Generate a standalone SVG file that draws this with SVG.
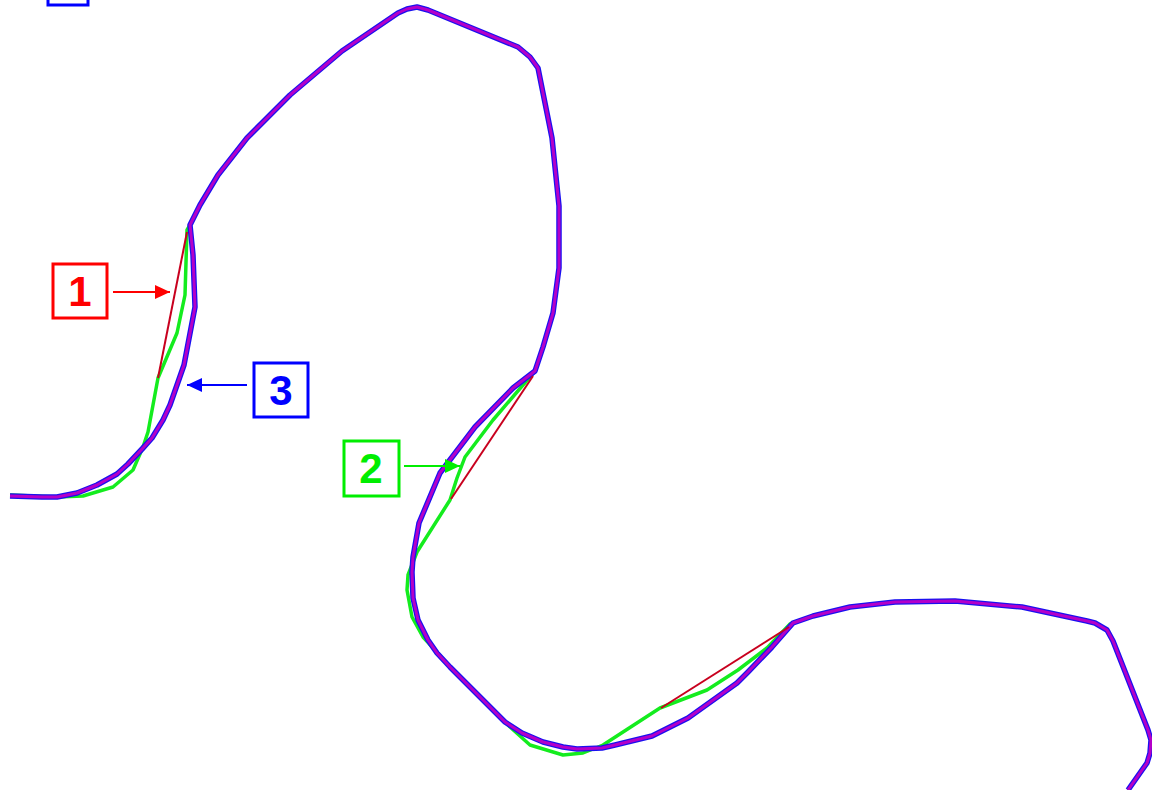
<svg xmlns="http://www.w3.org/2000/svg" width="1152" height="790" viewBox="0 0 1152 790">
<style>
.line{fill:none;stroke-linejoin:round;stroke-linecap:butt}
.green{stroke:#14ec1e;stroke-width:3.5}
.blue{stroke:#1a10f0;stroke-width:5.5}
.mag{stroke:#b400c8;stroke-width:3}
.red{stroke:#c8001e;stroke-width:2}
.box{fill:#fff;stroke-width:3}
.lbl{font-family:"Liberation Sans","DejaVu Sans",sans-serif;font-weight:bold;font-size:42px;text-anchor:middle}
</style>
<defs>
<marker id="ahR" markerWidth="16" markerHeight="14" refX="15" refY="7" orient="auto" markerUnits="userSpaceOnUse"><path d="M0,0 L15,7 L0,14 Z" fill="#ff0000"/></marker>
<marker id="ahG" markerWidth="16" markerHeight="14" refX="15" refY="7" orient="auto" markerUnits="userSpaceOnUse"><path d="M0,0 L15,7 L0,14 Z" fill="#00ee00"/></marker>
<marker id="ahB" markerWidth="16" markerHeight="14" refX="15" refY="7" orient="auto" markerUnits="userSpaceOnUse"><path d="M0,0 L15,7 L0,14 Z" fill="#0000ff"/></marker>
</defs>
<rect width="1152" height="790" fill="#fff"/>
<g id="connectors">
<path id="smoothed" class="line green" d="M10,495 L57,497 L83,496 L113,487 L133,470 L143,447 L148,432 L158,378 L177,333 L185,295 L187,230 L190,225 L200,205 L218,175 L247,138 L290,95 L342,51 L398,13 L407,9 L417,7 L428,10 L518,47 L530,57 L538,68 L552,138 L559,206 L559,268 L553,313 L543,347 L535,371 L493,420 L465,457 L457,478 L450,500 L417,552 L408,575 L407,590 L412,617 L423,637 L435,650 L450,667 L495,712 L510,727 L530,745 L563,755 L583,753 L603,745 L660,708 L707,690 L738,670 L767,648 L790,624 L813,616 L850,607 L895,602 L955,601 L1022,607 L1087,621 L1095,623 L1107,630 L1113,641 L1148,730 L1151,740 L1150,753 L1147,763 L1128,790"/>
<path id="original" class="line blue" d="M10,496 L42,497 L57,497 L77,493 L97,485 L117,474 L128,464 L143,448 L152,438 L163,420 L170,405 L184,365 L195,307 L193,255 L190,225 L200,205 L218,175 L247,138 L290,95 L342,51 L398,13 L407,9 L417,7 L428,10 L518,47 L530,57 L538,68 L552,138 L559,206 L559,268 L553,313 L543,347 L535,371 L513,388 L475,427 L440,473 L419,523 L413,557 L412,572 L413,598 L418,620 L428,640 L437,653 L450,667 L495,712 L505,722 L522,733 L543,742 L563,747 L577,749 L602,748 L615,745 L652,736 L688,718 L737,683 L748,672 L772,647 L793,623 L813,616 L850,607 L895,602 L955,601 L1022,607 L1087,621 L1095,623 L1107,630 L1113,641 L1148,730 L1151,740 L1150,753 L1147,763 L1128,790"/>
<path id="original-center" class="line mag" d="M10,496 L42,497 L57,497 L77,493 L97,485 L117,474 L128,464 L143,448 L152,438 L163,420 L170,405 L184,365 L195,307 L193,255 L190,225 L200,205 L218,175 L247,138 L290,95 L342,51 L398,13 L407,9 L417,7 L428,10 L518,47 L530,57 L538,68 L552,138 L559,206 L559,268 L553,313 L543,347 L535,371 L513,388 L475,427 L440,473 L419,523 L413,557 L412,572 L413,598 L418,620 L428,640 L437,653 L450,667 L495,712 L505,722 L522,733 L543,742 L563,747 L577,749 L602,748 L615,745 L652,736 L688,718 L737,683 L748,672 L772,647 L793,623 L813,616 L850,607 L895,602 L955,601 L1022,607 L1087,621 L1095,623 L1107,630 L1113,641 L1148,730 L1151,740 L1150,753 L1147,763 L1128,790"/>
<path id="simplified-1" class="line red" d="M187,232 L158,378"/>
<path id="simplified-2" class="line red" d="M533,376 L451,499"/>
<path id="simplified-3" class="line red" d="M661,708 L789,627"/>
<line x1="113" y1="292" x2="170" y2="292" stroke="#ff0000" stroke-width="2" marker-end="url(#ahR)"/>
<line x1="404" y1="466" x2="460" y2="466" stroke="#00ee00" stroke-width="2" marker-end="url(#ahG)"/>
<line x1="247" y1="385" x2="187" y2="385" stroke="#0000ff" stroke-width="2" marker-end="url(#ahB)"/>
</g>
<g id="label-top">
<rect class="box" x="48" y="-50" width="40" height="55" stroke="#0000ff"/>
</g>
<g id="label-1">
<rect class="box" x="53" y="264" width="54" height="54" stroke="#ff0000"/>
<text class="lbl" x="80" y="306" fill="#ff0000">1</text>
</g>
<g id="label-2">
<rect class="box" x="344" y="441" width="55" height="55" stroke="#00ee00"/>
<text class="lbl" x="371" y="483" fill="#00ee00">2</text>
</g>
<g id="label-3">
<rect class="box" x="254" y="363" width="54" height="54" stroke="#0000ff"/>
<text class="lbl" x="281" y="405" fill="#0000ff">3</text>
</g>
</svg>
